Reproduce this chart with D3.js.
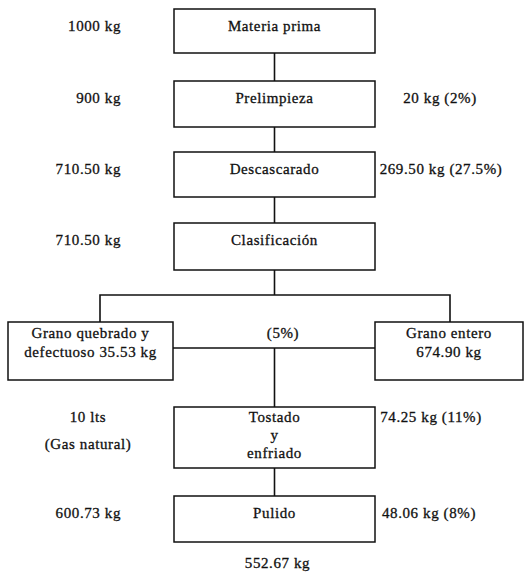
<!DOCTYPE html>
<html>
<head>
<meta charset="utf-8">
<script src="https://cdn.jsdelivr.net/npm/d3@7"></script>
<style>
  body { margin: 0; background: #fff; }
  text { font-family: "Liberation Serif", "Times New Roman", serif; font-size: 15px; fill: #111; stroke: #111; stroke-width: 0.3px; letter-spacing: 0.6px; }
</style>
</head>
<body>
<div id="chart"></div>
<script>
// process steps and the masses written beside each one
var steps = ["Materia prima", "Prelimpieza", "Descascarado", "Clasificación", "Tostado\ny\nenfriado", "Pulido"];
var inputs = ["1000 kg", "900 kg", "710.50 kg", "710.50 kg", "10 lts\n(Gas natural)", "600.73 kg"];
var losses = ["", "20 kg (2%)", "269.50 kg (27.5%)", "", "74.25 kg (11%)", "48.06 kg (8%)"];
var branches = ["Grano quebrado y\ndefectuoso 35.53 kg", "Grano entero\n674.90 kg"];
var branchPct = "(5%)";
var output = "552.67 kg";

var width = 525, height = 572;

let svg = d3.select("#chart")
    .append("svg")
    .attr("width", width)
    .attr("height", height);

// layout: top and height of each main box
var tops = [9, 81, 152, 223, 407, 496];
var heights = [44, 46, 45, 47, 61, 46];
var inputX = [121, 121, 121, 121, 88, 121];
var lossX = [440, 440, 441, 440, 431, 429];

let x = d3.scaleLinear().domain([0, 1]).range([174, 375]);
let cx = (x(0) + x(1)) / 2;

// main boxes
svg.selectAll("rect.step")
    .data(steps)
    .enter()
    .append("rect")
    .attr("class", "step")
    .attr("x", x(0))
    .attr("y", (d, i) => tops[i])
    .attr("width", x(1) - x(0))
    .attr("height", (d, i) => heights[i])
    .attr("fill", "none")
    .attr("stroke", "#111")
    .attr("stroke-width", 1.5);

function multiline(sel, str, x0, y0, dy, anchor) {
    var t = sel.append("text")
        .attr("x", x0)
        .attr("y", y0)
        .style("text-anchor", anchor);
    str.split("\n").forEach(function(s, k) {
        t.append("tspan").attr("x", x0).attr("y", y0 + k * dy).text(s);
    });
}

steps.forEach(function(s, i) {
    var n = s.split("\n").length;
    multiline(svg, s, cx, tops[i] + (n > 1 ? 15 : 22), 18, "middle");
    if (inputs[i]) {
        var anchor = inputs[i].indexOf("\n") >= 0 ? "middle" : "end";
        multiline(svg, inputs[i], inputX[i], tops[i] + (n > 1 ? 15 : 22), 27, anchor);
    }
    if (losses[i]) {
        multiline(svg, losses[i], lossX[i], tops[i] + (n > 1 ? 15 : 22), 18, "middle");
    }
});

// vertical connectors between consecutive boxes (skip the branch step)
var links = [[0, 1], [1, 2], [2, 3], [4, 5]];
svg.selectAll("line.link")
    .data(links)
    .enter()
    .append("line")
    .attr("x1", cx).attr("x2", cx)
    .attr("y1", d => tops[d[0]] + heights[d[0]])
    .attr("y2", d => tops[d[1]])
    .attr("stroke", "#111")
    .attr("stroke-width", 1.6);

// branch after classification
var branchY = 295, boxTop = 322, boxH = 58, midY = 348;
var bx = [[8, 173], [375, 523]];
var path = d3.path();
path.moveTo(cx, tops[3] + heights[3]); path.lineTo(cx, branchY);
path.moveTo(100, boxTop); path.lineTo(100, branchY); path.lineTo(450, branchY); path.lineTo(450, boxTop);
path.moveTo(bx[0][1], midY); path.lineTo(bx[1][0], midY);
path.moveTo(cx, midY); path.lineTo(cx, tops[4]);
svg.append("path")
    .attr("d", path.toString())
    .attr("fill", "none")
    .attr("stroke", "#111")
    .attr("stroke-width", 1.6);

svg.selectAll("rect.branch")
    .data(branches)
    .enter()
    .append("rect")
    .attr("x", (d, i) => bx[i][0])
    .attr("y", boxTop)
    .attr("width", (d, i) => bx[i][1] - bx[i][0])
    .attr("height", boxH)
    .attr("fill", "#fff")
    .attr("stroke", "#111")
    .attr("stroke-width", 1.5);

branches.forEach(function(b, i) {
    multiline(svg, b, (bx[i][0] + bx[i][1]) / 2, 338, 19, "middle");
});

svg.append("text")
    .attr("x", 283)
    .attr("y", 338)
    .style("text-anchor", "middle")
    .text(branchPct);

svg.append("text")
    .attr("x", cx + 3)
    .attr("y", 568)
    .style("text-anchor", "middle")
    .text(output);
</script>
</body>
</html>
